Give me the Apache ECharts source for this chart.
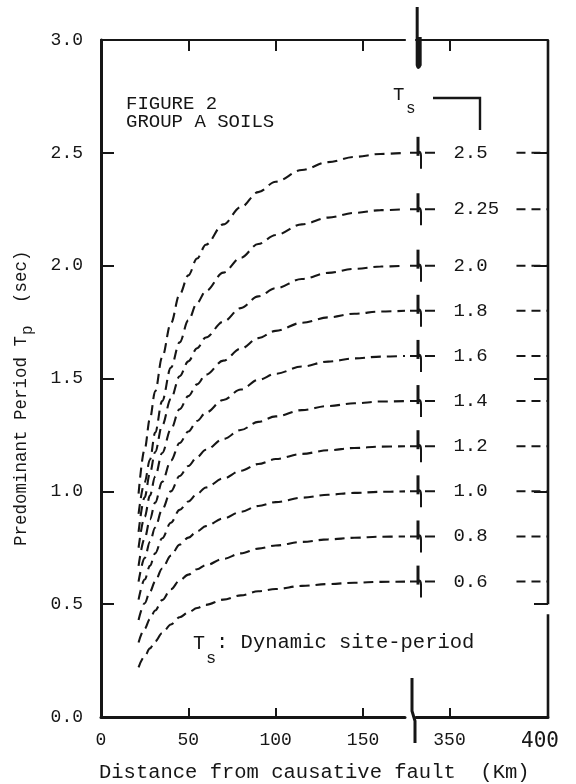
<!DOCTYPE html>
<html>
<head>
<meta charset="utf-8">
<script src="https://cdn.jsdelivr.net/npm/echarts@6/dist/echarts.min.js"></script>
<style>
  html, body { margin: 0; padding: 0; background: #fff; }
  #chart { width: 576px; height: 784px; }
</style>
</head>
<body>
<div id="chart"></div>
<script>
// Distance from causative fault (km) where each curve is sampled
const distanceKm = [21.5, 25, 28, 31, 35, 40, 45, 50, 55, 60, 70, 80, 90, 100, 115, 130, 145, 160, 174];

// Dynamic site-period Ts of each curve (sec) and its printed label
const sitePeriods = [0.6, 0.8, 1.0, 1.2, 1.4, 1.6, 1.8, 2.0, 2.25, 2.5];
const siteLabels = ['0.6', '0.8', '1.0', '1.2', '1.4', '1.6', '1.8', '2.0', '2.25', '2.5'];

// Predominant period Tp (sec) along each curve, one list per site-period
const tpTs060 = [0.220, 0.269, 0.304, 0.335, 0.372, 0.410, 0.442, 0.463, 0.483, 0.497, 0.520, 0.539, 0.557, 0.567, 0.581, 0.589, 0.595, 0.599, 0.600];
const tpTs080 = [0.330, 0.391, 0.434, 0.472, 0.518, 0.566, 0.605, 0.631, 0.655, 0.673, 0.701, 0.725, 0.746, 0.760, 0.776, 0.787, 0.794, 0.799, 0.800];
const tpTs100 = [0.430, 0.504, 0.555, 0.601, 0.658, 0.715, 0.764, 0.795, 0.823, 0.846, 0.880, 0.909, 0.935, 0.952, 0.972, 0.985, 0.993, 0.998, 1.000];
const tpTs120 = [0.520, 0.609, 0.670, 0.725, 0.792, 0.861, 0.918, 0.955, 0.989, 1.017, 1.057, 1.091, 1.121, 1.143, 1.166, 1.182, 1.192, 1.198, 1.200];
const tpTs140 = [0.600, 0.704, 0.776, 0.840, 0.920, 1.000, 1.068, 1.112, 1.152, 1.184, 1.232, 1.272, 1.308, 1.332, 1.360, 1.378, 1.390, 1.398, 1.400];
const tpTs160 = [0.670, 0.791, 0.875, 0.950, 1.042, 1.136, 1.214, 1.265, 1.312, 1.349, 1.405, 1.451, 1.494, 1.521, 1.553, 1.575, 1.589, 1.597, 1.600];
const tpTs180 = [0.750, 0.887, 0.981, 1.065, 1.170, 1.275, 1.364, 1.422, 1.474, 1.517, 1.579, 1.632, 1.679, 1.711, 1.747, 1.771, 1.787, 1.797, 1.800];
const tpTs200 = [0.820, 0.974, 1.080, 1.174, 1.292, 1.410, 1.510, 1.576, 1.634, 1.682, 1.752, 1.812, 1.864, 1.900, 1.941, 1.968, 1.986, 1.996, 2.000];
const tpTs225 = [0.900, 1.040, 1.140, 1.260, 1.400, 1.548, 1.660, 1.758, 1.835, 1.888, 1.969, 2.035, 2.096, 2.136, 2.183, 2.213, 2.234, 2.246, 2.250];
const tpTs250 = [0.990, 1.187, 1.322, 1.443, 1.594, 1.745, 1.873, 1.957, 2.032, 2.093, 2.183, 2.259, 2.326, 2.372, 2.424, 2.459, 2.482, 2.495, 2.500];
const tpCurves = [tpTs060, tpTs080, tpTs100, tpTs120, tpTs140, tpTs160, tpTs180, tpTs200, tpTs225, tpTs250];

// Axis ticks and labels
const nearTicks = [50, 100, 150];
const nearLabels = [0, 50, 100, 150];
const farTicks = [350];
const farLabels = [350, 400];

// Broken distance axis: near field 0-174 km, far field 333-400 km
const nearRange = [0, 174];
const farRange = [333, 400];
const tailRange = [333, 343];     // short run of each curve past the break
const labelAt = 352;              // where the Ts values are written
const edgeRange = [384, 400];     // dashes that meet the right frame
const frameUpper = [3.0, 0.5];    // right frame, upper piece
const frameLower = [0.455, 0.0];  // right frame, lower piece

const INK = '#161616';
const MONO = '"Liberation Mono", "Courier New", monospace';

const chart = echarts.init(document.getElementById('chart'), null, { renderer: 'canvas' });

function frameAxisX(gridIndex, position, range, ticks, labels) {
  return {
    type: 'value', gridIndex, position, min: range[0], max: range[1],
    axisLine: { show: true, onZero: false, lineStyle: { color: INK, width: position === 'bottom' ? 3 : 2.2 } },
    axisTick: { show: ticks.length > 0, inside: true, length: position === 'bottom' ? 9 : 11, customValues: ticks, lineStyle: { color: INK, width: 2 } },
    axisLabel: labels ? {
      show: true, customValues: labels, margin: 14, color: INK, fontFamily: MONO, fontSize: 18,
      formatter: v => (v === 400 ? '{big|400}' : String(v)),
      rich: { big: { fontFamily: '"DejaVu Sans Mono", monospace', fontSize: 21, color: INK, padding: [0, 16, 0, 0] } }
    } : { show: false },
    splitLine: { show: false }
  };
}

// Break mark drawn where each curve crosses the axis break, plus its Ts label and edge dashes
function renderSiteMarks(params, api) {
  const v = api.value(1);
  const a = api.coord([tailRange[0], v]);
  const b = api.coord([tailRange[1], v]);
  const t = api.coord([labelAt, v]);
  const e0 = api.coord([edgeRange[0], v]);
  const e1 = api.coord([edgeRange[1], v]);
  const x = a[0] + 2, y = a[1];
  return {
    type: 'group',
    children: [
      { type: 'line', shape: { x1: a[0] - 6, y1: y, x2: b[0], y2: y }, style: { stroke: INK, lineWidth: 2, lineDash: [10, 5] } },
      { type: 'path', shape: { pathData: `M${x},${y - 16}L${x},${y + 3}` }, style: { stroke: INK, lineWidth: 3, fill: null } },
      { type: 'path', shape: { pathData: `M${x},${y - 1}Q${x + 3},${y - 2} ${x + 3},${y + 3}L${x + 3},${y + 16}` }, style: { stroke: INK, lineWidth: 2, fill: null } },
      { type: 'text', x: t[0], y: y, style: { text: siteLabels[params.dataIndex], font: '19px ' + MONO, fill: INK, align: 'left', verticalAlign: 'middle' } },
      { type: 'line', shape: { x1: e0[0], y1: e0[1], x2: e1[0], y2: e1[1] }, style: { stroke: INK, lineWidth: 2, lineDash: [9, 6] } }
    ]
  };
}

// Break marks on the top and bottom frame lines
function renderAxisBreaks(params, api) {
  const p = api.coord([api.value(0), api.value(1)]);
  const x = p[0], y = p[1];
  const d = params.dataIndex === 0
    ? `M${x},${y - 33}L${x},${y + 25}Q${x + 1},${y + 30} ${x + 3},${y + 25}L${x + 3},${y - 3}`
    : `M${x - 4},${y - 39}L${x - 4},${y - 6}L${x - 1},${y + 4}L${x - 1},${y + 26}`;
  return { type: 'path', shape: { pathData: d }, style: { stroke: INK, lineWidth: 3, fill: null } };
}

const curveSeries = tpCurves.map((vals, i) => ({
  name: 'Ts ' + siteLabels[i],
  type: 'line', xAxisIndex: 0, yAxisIndex: 0,
  data: distanceKm.map((d, k) => [d, vals[k]]),
  smooth: 0.35, smoothMonotone: 'x', showSymbol: false, symbol: 'none',
  lineStyle: { color: INK, width: 2.1, type: [10, 6] },
  silent: true, z: 3
}));

const option = {
  backgroundColor: '#fff',
  animation: false,
  grid: [
    { left: 101, top: 40, width: 304, height: 677 },
    { left: 416, top: 40, width: 132, height: 677 }
  ],
  xAxis: [
    frameAxisX(0, 'bottom', nearRange, nearTicks, nearLabels),
    frameAxisX(0, 'top', nearRange, nearTicks, null),
    frameAxisX(1, 'bottom', farRange, farTicks, farLabels),
    frameAxisX(1, 'top', farRange, farTicks, null)
  ],
  yAxis: [
    {
      type: 'value', gridIndex: 0, min: 0, max: 3, interval: 0.5,
      axisLine: { show: true, lineStyle: { color: INK, width: 3 } },
      axisTick: { show: true, inside: true, length: 13, lineStyle: { color: INK, width: 2 } },
      axisLabel: { margin: 18, color: INK, fontFamily: MONO, fontSize: 18, formatter: v => v.toFixed(1) },
      splitLine: { show: false }
    },
    {
      type: 'value', gridIndex: 1, position: 'right', min: 0, max: 3, interval: 0.5,
      axisLine: { show: false },
      axisTick: { show: true, inside: true, length: 14, lineStyle: { color: INK, width: 2 } },
      axisLabel: { show: false },
      splitLine: { show: false }
    }
  ],
  series: [
    ...curveSeries,
    {
      name: 'site marks', type: 'custom', xAxisIndex: 2, yAxisIndex: 1,
      data: sitePeriods.map(v => [tailRange[0], v]),
      renderItem: renderSiteMarks, silent: true, z: 4
    },
    {
      name: 'axis breaks', type: 'custom', xAxisIndex: 2, yAxisIndex: 1,
      data: [[farRange[0] + 0.6, 3.0], [farRange[0], 0.0]],
      renderItem: renderAxisBreaks, silent: true, z: 5
    },
    {
      name: 'frame upper', type: 'line', xAxisIndex: 2, yAxisIndex: 1,
      data: frameUpper.map(v => [farRange[1], v]), symbol: 'none',
      lineStyle: { color: INK, width: 2.6 }, silent: true
    },
    {
      name: 'frame lower', type: 'line', xAxisIndex: 2, yAxisIndex: 1,
      data: frameLower.map(v => [farRange[1], v]), symbol: 'none',
      lineStyle: { color: INK, width: 2.6 }, silent: true
    }
  ],
  graphic: [
    { type: 'text', x: 126, y: 104, style: { text: 'FIGURE 2', font: '19px ' + MONO, fill: INK, verticalAlign: 'middle' } },
    { type: 'text', x: 126, y: 122, style: { text: 'GROUP A SOILS', font: '19px ' + MONO, fill: INK, verticalAlign: 'middle' } },
    { type: 'text', x: 393, y: 95, style: { text: 'T', font: '19px ' + MONO, fill: INK, verticalAlign: 'middle' } },
    { type: 'text', x: 406, y: 109, style: { text: 's', font: '16px ' + MONO, fill: INK, verticalAlign: 'middle' } },
    { type: 'polyline', shape: { points: [[433, 98], [480, 98], [480, 130]] }, style: { stroke: INK, lineWidth: 2.4, fill: null } },
    { type: 'text', x: 193, y: 644, style: { text: 'T', font: '20px ' + MONO, fill: INK, verticalAlign: 'middle' } },
    { type: 'text', x: 206, y: 658, style: { text: 's', font: '17px ' + MONO, fill: INK, verticalAlign: 'middle' } },
    { type: 'text', x: 216, y: 643, style: { text: ': Dynamic site-period', font: '20.5px ' + MONO, fill: INK, verticalAlign: 'middle' } },
    { type: 'text', x: 99, y: 773, style: { text: 'Distance from causative fault  (Km)', font: '20.5px ' + MONO, fill: INK, verticalAlign: 'middle' } },
    {
      type: 'group', x: 21, y: 546, rotation: Math.PI / 2,
      children: [
        { type: 'text', x: 0, y: 0, style: { text: 'Predominant Period T', font: '17.5px ' + MONO, fill: INK, verticalAlign: 'middle' } },
        { type: 'text', x: 211, y: 7, style: { text: 'p', font: '16px ' + MONO, fill: INK, verticalAlign: 'middle' } },
        { type: 'text', x: 222, y: 0, style: { text: '  (sec)', font: '17.5px ' + MONO, fill: INK, verticalAlign: 'middle' } }
      ]
    }
  ]
};

chart.setOption(option);
</script>
</body>
</html>
